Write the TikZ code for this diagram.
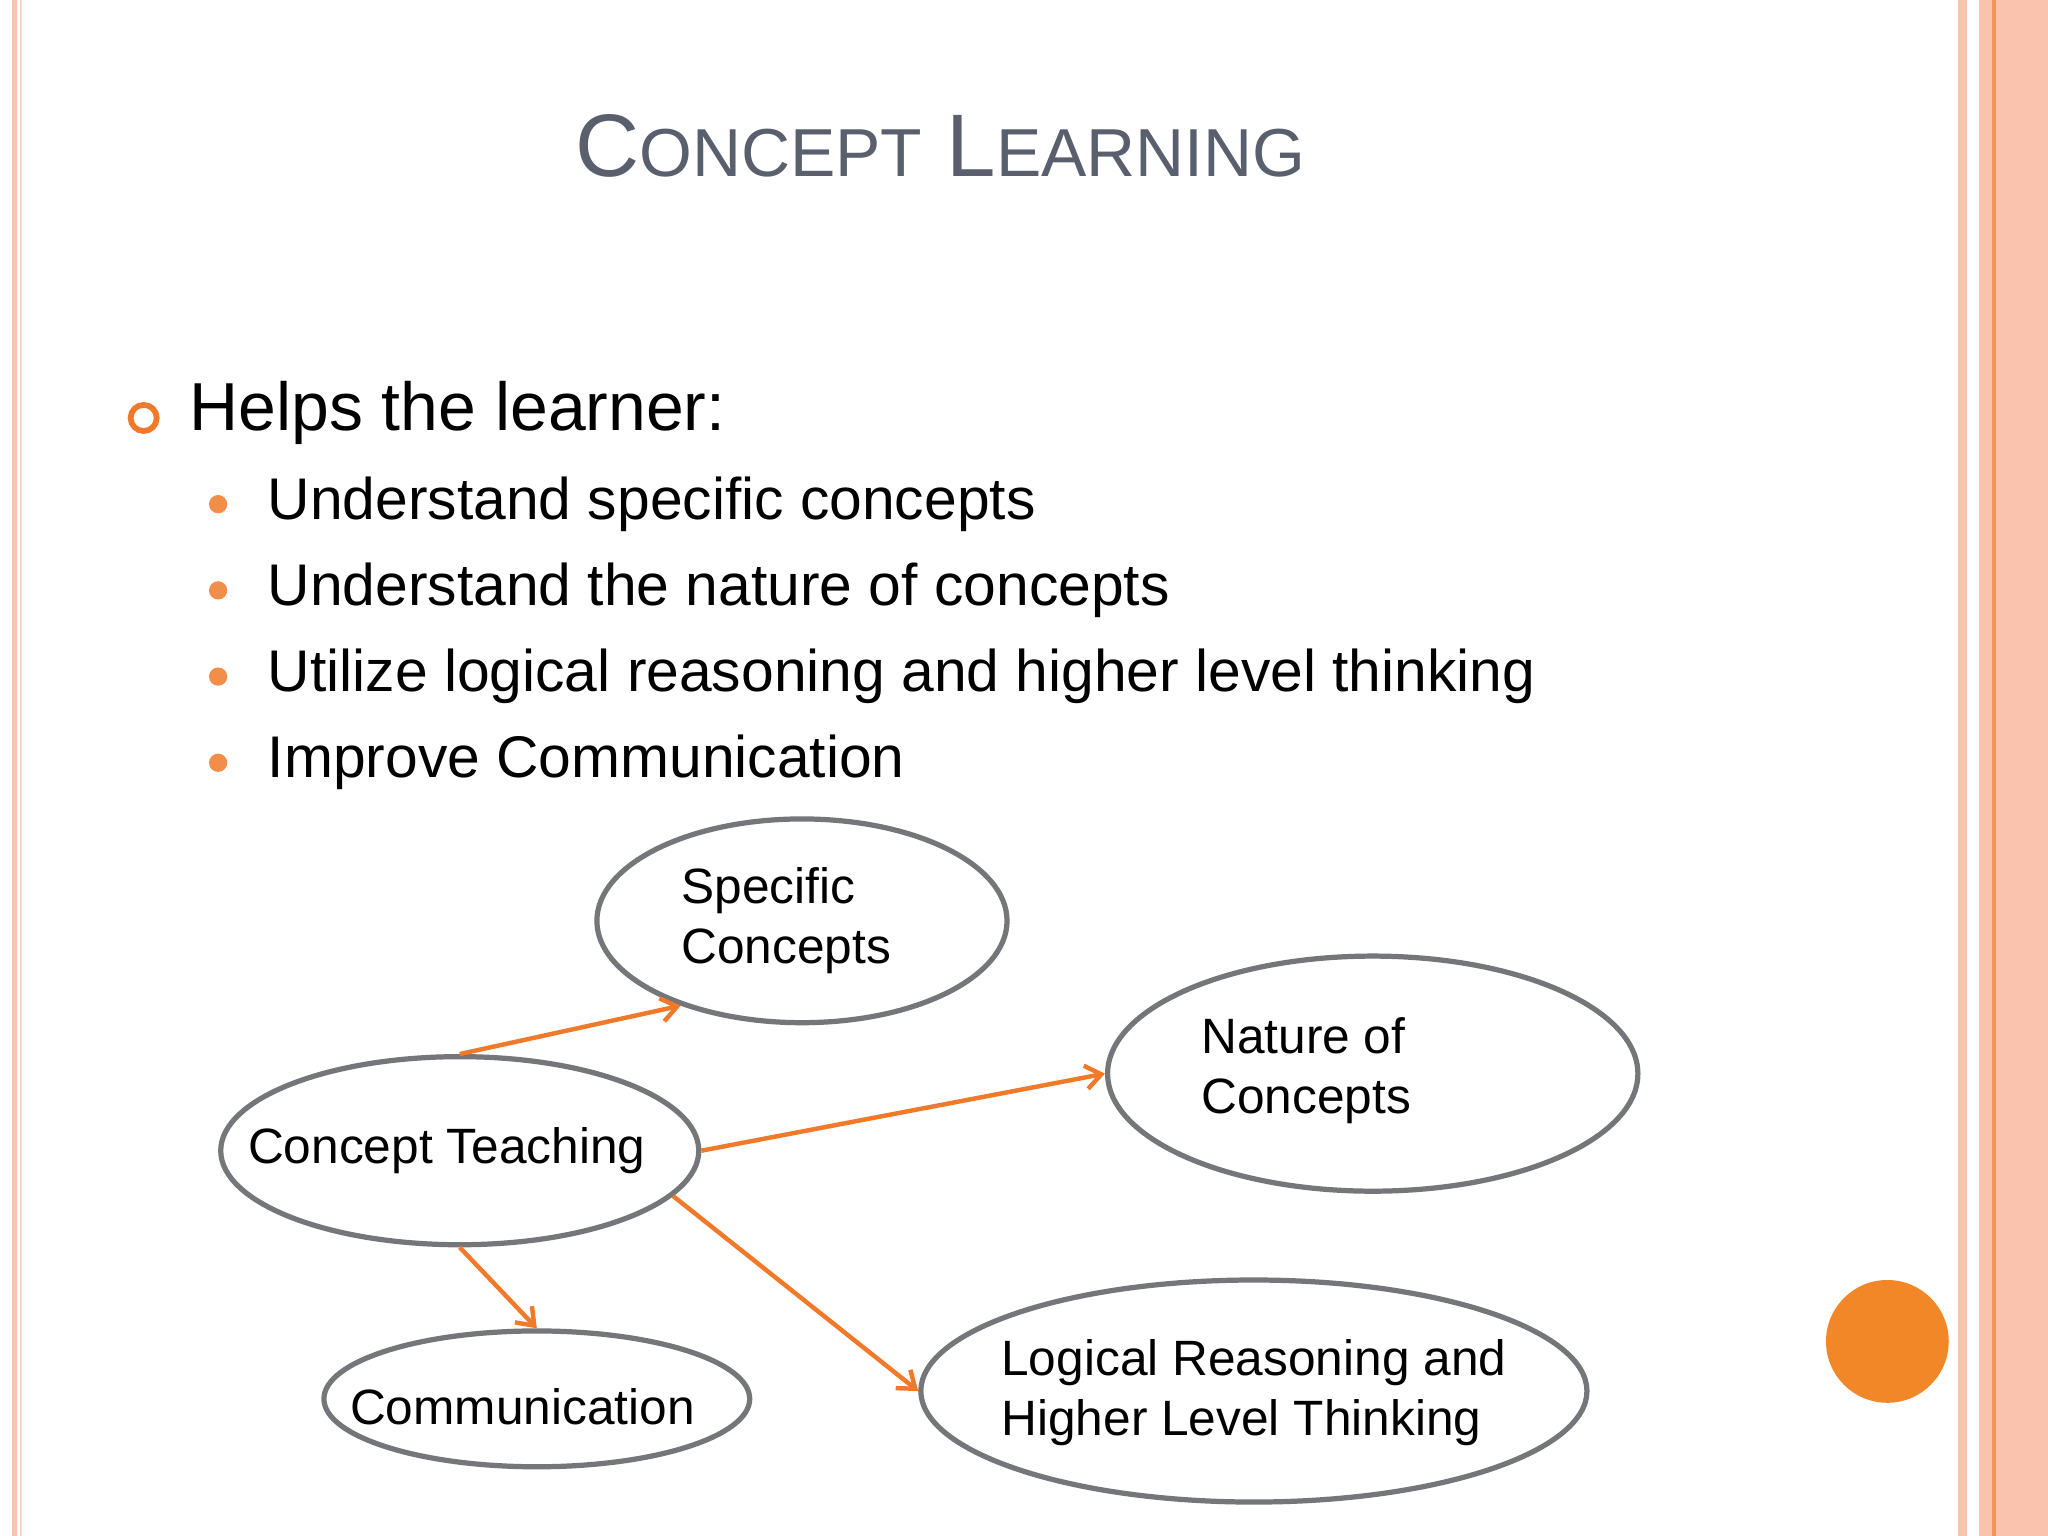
\documentclass[tikz,border=0pt]{standalone}
\usepackage{fontspec}
\setmainfont{Liberation Sans}
\usetikzlibrary{arrows.meta,shapes.geometric}
\definecolor{ttl}{HTML}{5A5F6E}
\definecolor{org}{HTML}{F07A2A}
\definecolor{pinkb}{HTML}{F9C3AE}
\definecolor{egr}{HTML}{75767A}
\newcommand{\bigc}[1]{{\fontsize{34}{38}\selectfont #1}}
\newcommand{\smc}[1]{{\fontsize{26}{38}\selectfont #1}}
\tikzset{
 ell/.style={ellipse,draw=egr,line width=2pt,inner sep=0pt},
 etext/.style={font=\fontsize{19}{23}\selectfont,align=left},
 arr/.style={draw=org,line width=1.7pt,-{Straight Barb[length=6pt,width=9pt]}},
 bul/.style={font=\fontsize{22.5}{26}\selectfont,anchor=west},
}
\begin{document}
\begin{tikzpicture}[x=0.5pt,y=-0.5pt]
\useasboundingbox (0,0) rectangle (1568,1176);
\fill[white] (0,0) rectangle (1568,1176);
% borders
\fill[pinkb] (9,0) rectangle (13,1176);
\fill[pinkb!70] (15,0) rectangle (17,1176);
\fill[pinkb] (1499,0) rectangle (1506,1176);
\fill[pinkb] (1515,0) rectangle (1568,1176);
\fill[org!80] (1525,0) rectangle (1528,1176);
% title
\node[text=ttl] (title) at (720,112) {\bigc{C}\smc{ONCEPT}\bigc{\ L}\smc{EARNING}};
% bullets
\draw[org,line width=2.2pt] (110,320) circle (10);
\node[bul,font=\fontsize{26}{30}\selectfont] (h) at (138,316) {Helps the learner:};
\foreach \y/\t [count=\i] in {386/Understand specific concepts,452/Understand the nature of concepts,518/Utilize logical reasoning and higher level thinking,584/Improve Communication}{
 \fill[org!85] (167,\y) circle (7);
 \node[bul] (b\i) at (198,\y) {\t};
}
% ellipses
\node[ell,minimum width=157pt,minimum height=78pt] (sc) at (614,705) {};
\node[etext] at (602,705) {Specific\\Concepts};
\node[ell,minimum width=203pt,minimum height=90pt] (nc) at (1051,822) {};
\node[etext] at (1000,820) {Nature of\\Concepts};
\node[ell,minimum width=183pt,minimum height=72pt] (ct) at (352,881) {};
\node[etext] at (342,881) {Concept Teaching};
\node[ell,minimum width=163pt,minimum height=52pt] (cm) at (411,1071) {};
\node[etext] at (400,1077) {Communication};
\node[ell,minimum width=255pt,minimum height=85pt] (lr) at (960,1065) {};
\node[etext] at (960,1066) {Logical Reasoning and\\Higher Level Thinking};
% arrows
\draw[arr] (ct.north) -- (sc.-145);
\draw[arr] (ct.east) -- (nc.west);
\draw[arr] (ct.south) -- (cm.north);
\draw[arr] (ct.-12) -- (lr.west);
% circle
\fill[org!90!yellow] (1445,1027) circle (47);
\end{tikzpicture}
\end{document}
